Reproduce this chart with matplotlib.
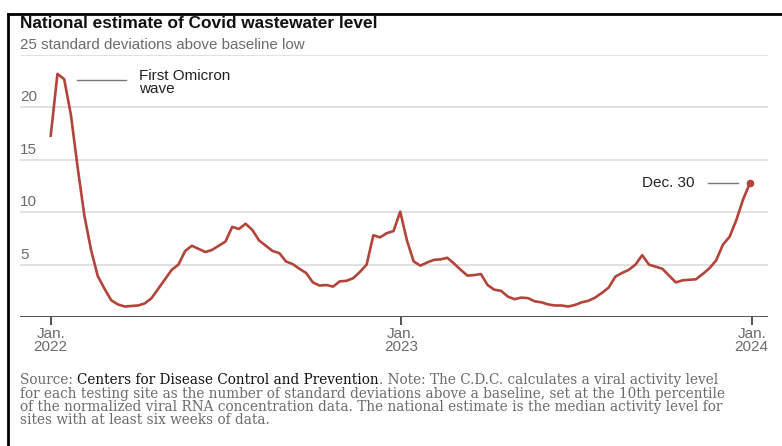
import pandas as pd
import matplotlib
matplotlib.use("Agg")
import matplotlib.pyplot as plt
import matplotlib.dates as mdates
import matplotlib.transforms as mtransforms
from matplotlib.lines import Line2D

# weekly national estimate, standard deviations above baseline
start = "2022-01-01"
levels = [
    17.3, 23.2, 22.7, 19.3, 14.3, 9.7, 6.4, 3.9, 2.7, 1.6,
    1.2, 1.0, 1.05, 1.1, 1.3, 1.8, 2.7, 3.6, 4.5, 5.0,
    6.3, 6.8, 6.5, 6.2, 6.4, 6.8, 7.2, 8.6, 8.4, 8.9,
    8.3, 7.3, 6.8, 6.3, 6.1, 5.3, 5.05, 4.6, 4.2, 3.3,
    3.0, 3.05, 2.9, 3.4, 3.45, 3.7, 4.3, 5.0, 7.8, 7.6,
    8.0, 8.2, 10.05, 7.3, 5.3, 4.9, 5.2, 5.45, 5.5, 5.65,
    5.1, 4.5, 3.95, 4.0, 4.1, 3.05, 2.6, 2.5, 1.95, 1.7,
    1.85, 1.8, 1.5, 1.4, 1.2, 1.1, 1.1, 1.0, 1.15, 1.4,
    1.55, 1.85, 2.3, 2.8, 3.85, 4.2, 4.5, 5.0, 5.9, 5.0,
    4.8, 4.6, 3.95, 3.3, 3.5, 3.55, 3.6, 4.1, 4.65, 5.4,
    6.9, 7.65, 9.25, 11.2, 12.75,
]
dates = pd.date_range(start, periods=len(levels), freq="7D")

y_ticks = [5, 10, 15, 20]
top_label = "25 standard deviations above baseline low"
x_ticks = pd.to_datetime(["2022-01-01", "2023-01-01", "2024-01-01"])
x_labels = ["Jan.\n2022", "Jan.\n2023", "Jan.\n2024"]

title = "National estimate of Covid wastewater level"
note_first = [("Source: ", "grey"), ("Centers for Disease Control and Prevention", "black"),
              (". Note: The C.D.C. calculates a viral activity level", "grey")]
note_lines = [
    "for each testing site as the number of standard deviations above a baseline, set at the 10th percentile",
    "of the normalized viral RNA concentration data. The national estimate is the median activity level for",
    "sites with at least six weeks of data.",
]

red = "#b3443a"
grey_txt = "#6b6b6b"
dark = "#222222"
plt.rcParams["font.family"] = ["Liberation Sans", "DejaVu Sans"]

W, H = 782, 446
fig = plt.figure(figsize=(W / 100, H / 100), dpi=100)
ax = fig.add_axes([20 / W, 1 - 317 / H, 748 / W, (317 - 55) / H])

ax.plot(dates, levels, color=red, lw=1.9, solid_joinstyle="round", zorder=3)
ax.plot(dates[-1:], levels[-1:], "o", color=red, ms=4.5, zorder=4)

t0 = pd.Timestamp(start)
ax.set_xlim(t0 - pd.Timedelta(days=32), t0 + pd.Timedelta(days=747))
ax.set_ylim(0, 25)

for v in y_ticks + [25]:
    ax.axhline(v, color="#dedede", lw=1.3, zorder=1)
ax.axhline(0, color="#333333", lw=1.2, zorder=2)

# y labels sit just above their gridlines
blend = mtransforms.blended_transform_factory(ax.transAxes, ax.transData)
lift = mtransforms.offset_copy(blend, fig=fig, y=3, units="dots")
for v in y_ticks:
    ax.text(0, v, str(v), transform=lift, ha="left", va="bottom",
            fontsize=11, color=grey_txt)
ax.text(0, 25, top_label, transform=lift, ha="left", va="bottom",
        fontsize=10.9, color=grey_txt)

ax.set_yticks([])
ax.set_xticks(x_ticks)
ax.set_xticklabels(x_labels, fontsize=11, color=grey_txt, linespacing=0.95)
ax.tick_params(axis="x", length=6, width=1.2, color="#333333", pad=1)
for s in ax.spines.values():
    s.set_visible(False)
ax.patch.set_alpha(0)

# annotations
pk = 1
x0, y0 = ax.transData.transform((mdates.date2num(dates[pk]), levels[pk]))
fig.add_artist(Line2D([(x0 + 20) / W, (x0 + 69) / W], [(y0 - 6) / H] * 2,
                      color="#777777", lw=1.0))
fig.text((x0 + 82) / W, (y0 + 5) / H, "First Omicron\nwave", ha="left", va="top",
         fontsize=11, color=dark, linespacing=0.92)

x1, y1 = ax.transData.transform((mdates.date2num(dates[-1]), levels[-1]))
fig.add_artist(Line2D([(x1 - 42) / W, (x1 - 12) / W], [y1 / H] * 2, color="#777777", lw=1.0))
fig.text((x1 - 55) / W, y1 / H, "Dec. 30", ha="right", va="center", fontsize=11, color=dark)

# title and frame
fig.text(20 / W, 1 - 23 / H, title, ha="left", va="center", fontsize=12.4,
         fontweight="bold", color="#111111")
fig.add_artist(Line2D([8 / W, 8 / W], [0, 1 - 14 / H], color="black", lw=2))
fig.add_artist(Line2D([8 / W, 1], [1 - 14 / H] * 2, color="black", lw=2))

# source note, first line in pieces for colour
serif = "DejaVu Serif"
fs = 9.8
fig.canvas.draw()
r = fig.canvas.get_renderer()
xpos = 20 / W
ypos = 1 - 380 / H
for piece, col in note_first:
    t = fig.text(xpos, ypos, piece, family=serif, fontsize=fs, va="center", ha="left",
                 color=grey_txt if col == "grey" else "#111111")
    xpos += t.get_window_extent(r).width / W
for i, line in enumerate(note_lines):
    fig.text(20 / W, 1 - (393.7 + 13.4 * i) / H, line, family=serif, fontsize=fs,
             color=grey_txt, va="center", ha="left")

fig.savefig("out.png", dpi=100)
